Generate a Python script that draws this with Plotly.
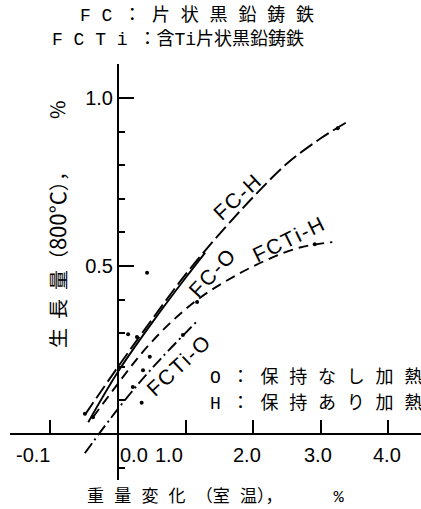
import plotly.graph_objects as go

# ---- curve data: weight change (room temp., %) vs growth (800°C, %) ----
fc_h_x = [-0.49, 0.0, 0.5, 1.0, 1.5, 2.0, 2.5, 3.0, 3.4]
fc_h_y = [0.057, 0.20, 0.34, 0.475, 0.595, 0.705, 0.805, 0.88, 0.93]

fc_o_x = [-0.44, 0.0, 0.5, 1.0, 1.29]
fc_o_y = [0.035, 0.185, 0.33, 0.465, 0.54]

fcti_h_x = [-0.37, 0.0, 0.37, 0.77, 1.21, 1.70, 2.20, 2.69, 3.17]
fcti_h_y = [0.05, 0.15, 0.245, 0.33, 0.405, 0.467, 0.518, 0.555, 0.571]

fcti_o_x = [-0.49, 0.0, 0.5, 1.19]
fcti_o_y = [-0.057, 0.075, 0.195, 0.34]

# measured points
pts_x = [-0.49, -0.37, 0.15, 0.28, 0.43, 0.35, 0.47, 0.37, 0.22, 0.96, 1.17, 2.91, 3.25]
pts_y = [0.06, 0.05, 0.297, 0.289, 0.48, 0.093, 0.23, 0.19, 0.14, 0.295, 0.393, 0.565, 0.91]

# axis ticks
x_tick_vals = [-1, 0, 1, 2, 3, 4]
x_tick_text = ["-0.1", "0.0", "1.0", "2.0", "3.0", "4.0"]
y_tick_vals = [0.5, 1.0]
y_tick_text = ["0.5", "1.0"]
y_minor_vals = [-0.1, 0.1, 0.2, 0.3, 0.4, 0.6, 0.7, 0.8, 0.9]

# curve names
curve_names = ["FC-H", "FC-O", "FCTi-H", "FCTi-O"]

W, H = 421, 509
ML, MR, MT, MB = 10, 0, 64, 29
X0_PX, X_UNIT = 118, 67.6   # pixel of x=0, pixels per unit
Y0_PX, Y_UNIT = 434, 336.0  # pixel of y=0, pixels per unit

x_range = [(ML - X0_PX) / X_UNIT, (W - MR - X0_PX) / X_UNIT]
y_range = [(Y0_PX - (H - MB)) / Y_UNIT, (Y0_PX - MT) / Y_UNIT]

def px(xp):
    return (xp - ML) / (W - ML - MR)

def py(yp):
    return (H - MB - yp) / (H - MT - MB)

MONO = "Liberation Mono, Noto Sans CJK JP, monospace"
CJK = "Noto Sans CJK JP, sans-serif"
SANS = "Liberation Sans, Arial, sans-serif"
HS = "\u200a"  # hair space between label letters

fig = go.Figure()

line_styles = [
    (fc_h_x, fc_h_y, "15px,5px"),
    (fc_o_x, fc_o_y, "solid"),
    (fcti_h_x, fcti_h_y, "10px,6px"),
    (fcti_o_x, fcti_o_y, "12px,4px,2px,4px"),
]
for (xs, ys, dash), name in zip(line_styles, curve_names):
    fig.add_trace(go.Scatter(
        x=xs, y=ys, mode="lines", name=name,
        line=dict(color="black", width=1.9, dash=dash, shape="spline", smoothing=1.0),
        showlegend=False, hoverinfo="skip",
    ))

fig.add_trace(go.Scatter(
    x=pts_x, y=pts_y, mode="markers",
    marker=dict(color="black", size=4),
    showlegend=False, hoverinfo="skip",
))

annotations = []

# x tick labels (hand-placed offsets)
x_label_shift = [-17, 16, -17, -6, -3, -1]
for v, t, dx in zip(x_tick_vals, x_tick_text, x_label_shift):
    annotations.append(dict(
        x=v, y=(Y0_PX - 455) / Y_UNIT, xref="x", yref="y", text=t,
        xanchor="center", yanchor="middle",
        showarrow=False, xshift=dx, font=dict(family=SANS, size=20, color="black"),
    ))

# curve labels
curve_label_pos = [(1.75, 0.705, -43), (1.39, 0.482, -47), (2.51, 0.58, -26), (0.89, 0.205, -43)]
for name, (lx, ly, ang) in zip(curve_names, curve_label_pos):
    annotations.append(dict(
        x=lx, y=ly, xref="x", yref="y", text=HS.join(name), textangle=ang,
        xanchor="center", yanchor="middle",
        showarrow=False, font=dict(family=SANS, size=21, color="black"),
    ))

# header, legend and x axis title (typewriter-style spaced text)
text_lines = [
    ("F C ： 片 状 黒 鉛 鋳 鉄", 78, 15, 18),
    ("F C T i ：含Ti片状黒鉛鋳鉄", 50, 40, 18),
    ("O ： 保 持 な し 加 熱", 208, 377, 18),
    ("H ： 保 持 あ り 加 熱", 208, 403, 18),
    ("重 量 変 化 （室 温），     %", 85, 497, 17),
]
for t, xl, yc, fs in text_lines:
    annotations.append(dict(
        x=px(xl), y=py(yc), xref="paper", yref="paper", text=t,
        xanchor="left", yanchor="middle", showarrow=False,
        font=dict(family=MONO, size=fs, color="black"),
    ))

# y axis title (reads bottom to top)
annotations.append(dict(
    x=px(56), y=py(255), xref="paper", yref="paper",
    text="生  長  量（<span style='font-size:22px'>800°C</span>），", textangle=-89.8,
    xanchor="center", yanchor="middle",
    showarrow=False, font=dict(family=CJK, size=20, color="black"),
))
annotations.append(dict(
    x=px(56), y=py(110), xref="paper", yref="paper", text="%", textangle=-89.8,
    xanchor="center", yanchor="middle",
    showarrow=False, font=dict(family=CJK, size=20, color="black"),
))

x_pos = (0 - y_range[0]) / (y_range[1] - y_range[0])
y_pos = (0 - x_range[0]) / (x_range[1] - x_range[0])

fig.update_layout(
    width=W, height=H,
    margin=dict(l=ML, r=MR, t=MT, b=MB),
    paper_bgcolor="white", plot_bgcolor="white",
    xaxis=dict(
        range=x_range, anchor="free", position=x_pos,
        showgrid=False, zeroline=False, showline=True, linecolor="black", linewidth=2,
        tickmode="array", tickvals=x_tick_vals, ticktext=x_tick_text,
        showticklabels=False, ticks="inside", ticklen=13, tickwidth=1.5, tickcolor="black",
    ),
    yaxis=dict(
        range=y_range, anchor="free", position=y_pos,
        showgrid=False, zeroline=False, showline=True, linecolor="black", linewidth=2,
        tickmode="array", tickvals=y_tick_vals, ticktext=y_tick_text,
        ticks="inside", ticklen=15, tickwidth=1.5, tickcolor="black",
        tickfont=dict(family=SANS, size=20, color="black"),
        minor=dict(tickvals=y_minor_vals, ticks="inside", ticklen=6, tickwidth=1.5, tickcolor="black"),
    ),
    annotations=annotations,
)

fig.write_html("out.html")
